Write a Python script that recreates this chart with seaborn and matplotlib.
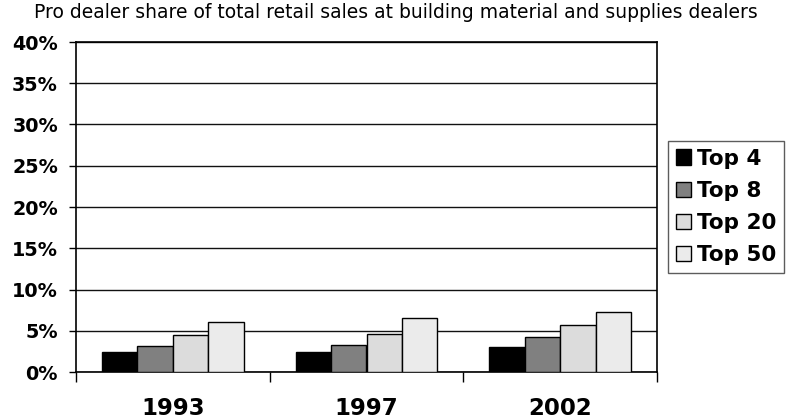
import matplotlib
matplotlib.use("Agg")
import matplotlib.pyplot as plt
import seaborn as sns
import pandas as pd
from matplotlib.ticker import FixedLocator, FuncFormatter

years = ["1993", "1997", "2002"]
groups = ["Top 4", "Top 8", "Top 20", "Top 50"]
top4 = [2.4, 2.4, 3.0]
top8 = [3.2, 3.3, 4.3]
top20 = [4.5, 4.6, 5.75]
top50 = [6.1, 6.5, 7.3]
colors = ["#000000", "#808080", "#dcdcdc", "#ebebeb"]
title = "Pro dealer share of total retail sales at building material and supplies dealers"

rows = []
for g, vals in zip(groups, [top4, top8, top20, top50]):
    for y, v in zip(years, vals):
        rows.append({"year": y, "group": g, "share": v})
df = pd.DataFrame(rows)

sns.set_theme(style="white")
plt.rcParams["font.family"] = ["DejaVu Sans"]
plt.rcParams["text.color"] = "black"
plt.rcParams["xtick.color"] = "black"
plt.rcParams["ytick.color"] = "black"

fig = plt.figure(figsize=(7.91, 4.19), dpi=100)
ax = fig.add_axes([76 / 791, 47 / 419, 581 / 791, 330 / 419])

sns.barplot(data=df, x="year", y="share", hue="group", order=years,
            hue_order=groups, palette=colors, width=0.73, gap=0,
            edgecolor="black", linewidth=1, saturation=1, ax=ax, zorder=3)

ax.set_xlim(-0.5, 2.5)
ax.set_ylim(0, 40)
ax.set_yticks(range(0, 41, 5))
ax.yaxis.set_major_formatter(FuncFormatter(lambda v, p: f"{int(v)}%"))
ax.grid(axis="y", color="#111111", linewidth=1, zorder=0)
ax.set_axisbelow(True)
for s in ax.spines.values():
    s.set_color("black")
    s.set_linewidth(1.2)

ax.tick_params(axis="y", which="major", direction="out", length=5, width=1,
               color="black", left=True, labelsize=13.8, pad=8,
               labelcolor="black")
for lab in ax.get_yticklabels():
    lab.set_fontweight("bold")

ax.set_xticks([0, 1, 2])
ax.set_xticklabels(years, fontsize=16.5, fontweight="bold", color="black")
ax.tick_params(axis="x", which="major", length=0, pad=18)
ax.xaxis.set_minor_locator(FixedLocator([-0.5, 0.5, 1.5, 2.5]))
ax.tick_params(axis="x", which="minor", direction="out", length=7, width=1,
               color="black", bottom=True)

ax.set_xlabel("")
ax.set_ylabel("")

leg = ax.legend(loc="upper left", bbox_to_anchor=(668 / 791, 278 / 419),
                bbox_transform=fig.transFigure, frameon=True, fancybox=False,
                prop={"size": 15.5, "weight": "bold"}, handlelength=0.7,
                handleheight=0.7, handletextpad=0.3, labelspacing=0.57,
                borderpad=0.35, borderaxespad=0, title=None)
leg.get_frame().set_edgecolor("#333333")
leg.get_frame().set_linewidth(1)
for t in leg.get_texts():
    t.set_color("black")

fig.text(0.5, 1 - 13 / 419, title, ha="center", va="center", fontsize=13.5,
         color="black")

fig.savefig("out.png", dpi=100)
